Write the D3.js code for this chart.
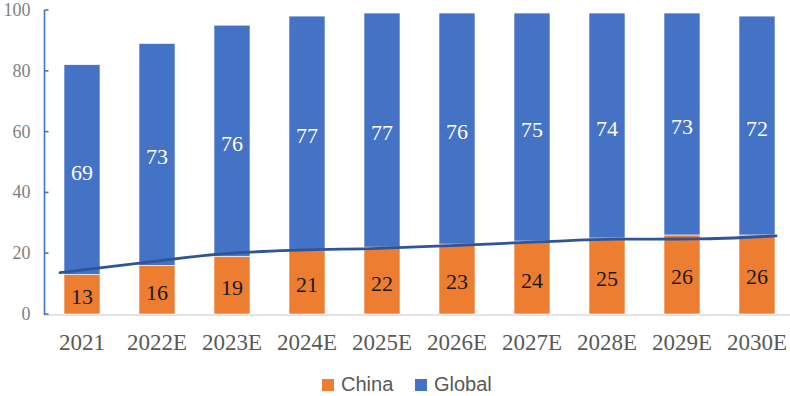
<!DOCTYPE html>
<html>
<head>
<meta charset="utf-8">
<script src="https://cdn.jsdelivr.net/npm/d3@7"></script>
<style>
  html, body { margin: 0; padding: 0; background: #fff; }
  svg { display: block; }
</style>
</head>
<body>
<svg id="chart" width="790" height="396"></svg>
<script>
// Chart data
const categories = ["2021", "2022E", "2023E", "2024E", "2025E", "2026E", "2027E", "2028E", "2029E", "2030E"];
const chinaValues = [13, 16, 19, 21, 22, 23, 24, 25, 26, 26];
const globalValues = [69, 73, 76, 77, 77, 76, 75, 74, 73, 72];
// China trend line (unrounded values)
const chinaTrend = [13.6, 16.7, 19.7, 21.0, 21.6, 22.6, 23.7, 24.6, 24.7, 25.7];
const yTicks = [0, 20, 40, 60, 80, 100];
const seriesNames = ["China", "Global"];
const seriesColors = ["#ED7D31", "#4472C4"];

const svg = d3.select("#chart");
const x0 = 44.5, yBottom = 314, yTop = 10;

const x = d3.scaleBand()
  .domain(categories)
  .range([x0, x0 + 750])
  .paddingInner(0.52)
  .paddingOuter(0.26);

const y = d3.scaleLinear().domain([0, 100]).range([yBottom, yTop]);

const xLine = d3.scalePoint().domain(categories).range([60, 776]);

// X baseline
svg.append("line")
  .attr("x1", x0).attr("x2", 790)
  .attr("y1", yBottom + 1).attr("y2", yBottom + 1)
  .attr("stroke", "#d9d9d9").attr("stroke-width", 1.5);

// Stacked bars
const rows = categories.map((c, i) => ({ cat: c, China: chinaValues[i], Global: globalValues[i] }));
const stack = d3.stack().keys(seriesNames)(rows);

stack.forEach((layer, li) => {
  svg.append("g").selectAll("rect")
    .data(layer)
    .join("rect")
    .attr("x", d => x(d.data.cat))
    .attr("width", x.bandwidth())
    .attr("y", d => y(d[1]))
    .attr("height", d => y(d[0]) - y(d[1]))
    .attr("fill", seriesColors[li])
    .attr("stroke", "#ffffff")
    .attr("stroke-width", 0.6);
});

// Value labels
stack.forEach((layer, li) => {
  svg.append("g").selectAll("text")
    .data(layer)
    .join("text")
    .attr("x", d => x(d.data.cat) + x.bandwidth() / 2)
    .attr("y", d => y((d[0] + d[1]) / 2) + 10)
    .attr("text-anchor", "middle")
    .attr("font-family", "Liberation Serif, DejaVu Serif, serif")
    .attr("font-size", 22)
    .attr("fill", li === 0 ? "#1a1a1a" : "#ffffff")
    .text(d => d.data[seriesNames[li]]);
});

// Trend line
svg.append("path")
  .datum(chinaTrend)
  .attr("fill", "none")
  .attr("stroke", "#2F5597")
  .attr("stroke-width", 2.8)
  .attr("stroke-linecap", "round")
  .attr("d", d3.line()
    .x((d, i) => xLine(categories[i]))
    .y(d => y(d))
    .curve(d3.curveMonotoneX));

// Y axis
const yAxis = svg.append("g").attr("transform", `translate(${x0},0)`);
yAxis.append("line")
  .attr("x1", 0).attr("x2", 0)
  .attr("y1", yTop).attr("y2", yBottom + 1)
  .attr("stroke", "#4472C4").attr("stroke-width", 1.6);
yAxis.selectAll("line.tick")
  .data(yTicks)
  .join("line")
  .attr("class", "tick")
  .attr("x1", 0).attr("x2", 4)
  .attr("y1", d => y(d)).attr("y2", d => y(d))
  .attr("stroke", "#4472C4").attr("stroke-width", 1.6);
yAxis.selectAll("text")
  .data(yTicks)
  .join("text")
  .attr("x", -14)
  .attr("y", d => y(d) + 6)
  .attr("text-anchor", "end")
  .attr("font-family", "Liberation Serif, DejaVu Serif, serif")
  .attr("font-size", 18)
  .attr("fill", "#7f7f7f")
  .text(d => d);

// X category labels
svg.append("g").selectAll("text")
  .data(categories)
  .join("text")
  .attr("x", d => x(d) + x.bandwidth() / 2)
  .attr("y", 350)
  .attr("text-anchor", "middle")
  .attr("font-family", "Liberation Serif, DejaVu Serif, serif")
  .attr("font-size", 23)
  .attr("fill", "#595959")
  .text(d => d);

// Legend
const legendX = [322, 415];
const legend = svg.append("g");
seriesNames.forEach((name, i) => {
  legend.append("rect")
    .attr("x", legendX[i]).attr("y", 379)
    .attr("width", 12).attr("height", 12)
    .attr("fill", seriesColors[i]);
  legend.append("text")
    .attr("x", legendX[i] + 19).attr("y", 391)
    .attr("font-family", "Liberation Sans, Arial, sans-serif")
    .attr("font-size", 20)
    .attr("fill", "#595959")
    .text(name);
});
</script>
</body>
</html>
